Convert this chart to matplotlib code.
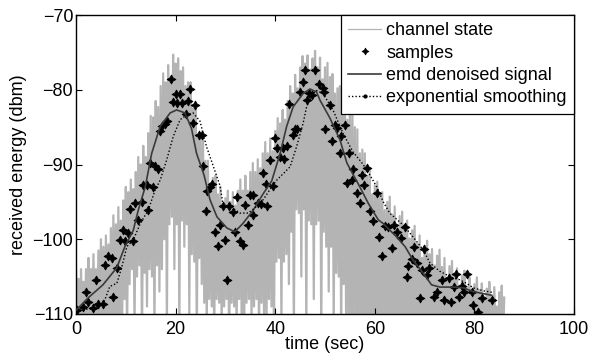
import numpy as np
import matplotlib
matplotlib.use("Agg")
import matplotlib.pyplot as plt
from matplotlib.lines import Line2D

plt.rcParams['font.family'] = ['Liberation Sans', 'DejaVu Sans']

# ---------------- data ----------------
chan_step = 0.25  # seconds between channel-state readings
# channel-state local maxima (t = 0, 0.5, 1.0, ... 86)
chan_peaks = [
    -104.0, -105.3, -104.0, -105.7, -104.0, -102.5, -104.0, -102.0, -104.0, -101.5,
    -100.0, -101.0, -99.5, -100.7, -98.5, -96.8, -98.0, -95.7, -97.5, -94.8,
    -93.0, -93.7, -92.0, -93.3, -91.0, -89.0, -90.0, -87.5, -89.0, -85.8,
    -83.5, -83.7, -81.5, -82.3, -79.5, -77.8, -79.0, -76.7, -78.5, -75.3,
    -76.5, -75.8, -77.5, -77.0, -79.5, -79.0, -79.0, -82.5, -82.5, -86.5,
    -86.0, -86.5, -89.5, -89.5, -92.5, -91.8, -91.5, -94.0, -93.0, -96.0,
    -94.5, -93.5, -95.0, -93.7, -95.5, -93.5, -92.0, -93.5, -91.5, -93.5,
    -91.0, -89.8, -91.0, -89.3, -90.5, -88.5, -87.0, -88.5, -86.5, -88.2,
    -85.5, -83.8, -84.5, -82.7, -84.0, -81.5, -79.5, -80.5, -78.0, -79.8,
    -77.0, -75.5, -76.5, -75.4, -77.3, -75.8, -74.8, -77.0, -75.7, -78.6,
    -77.0, -76.4, -78.3, -77.9, -80.5, -79.8, -79.5, -82.0, -81.0, -84.0,
    -82.5, -82.5, -85.0, -85.3, -88.5, -88.0, -88.5, -91.5, -90.8, -94.0,
    -92.8, -92.3, -94.3, -93.7, -96.1, -95.0, -94.3, -96.7, -95.6, -98.5,
    -96.9, -96.3, -98.1, -97.5, -99.9, -98.8, -98.2, -100.6, -99.5, -102.5,
    -100.9, -100.2, -102.0, -101.3, -103.5, -102.2, -101.4, -103.7, -102.5, -105.3,
    -103.6, -102.9, -104.6, -103.9, -106.2, -104.9, -104.2, -106.4, -105.1, -107.8,
    -106.0, -105.1, -106.8, -105.9, -108.0, -106.6, -105.7, -107.8, -106.4, -109.0,
    -107.1, -106.2, -107.8,
]
# channel-state fades (t = 0.25, 0.75, ... 85.75)
chan_fades = [
    -112, -114, -111, -113, -115, -111, -112, -114, -112, -111,
    -113, -115, -112, -111, -114, -112, -113, -111, -112, -108,
    -113, -106, -104, -112, -105, -103.5, -114, -104.5, -109, -104,
    -105, -113, -103.5, -107, -104, -100, -112, -98, -97, -104,
    -98, -113, -97.5, -101, -98, -110, -102, -103, -114, -102.5,
    -106, -108.5, -112, -108, -109, -114, -108, -108.5, -112, -109,
    -108, -115, -108.5, -109, -112, -108, -110, -114, -108.5, -108,
    -111, -109, -108, -113, -108.5, -110, -112, -108, -109, -114,
    -103, -102.5, -111, -103, -102, -106, -99, -113, -96, -96.5,
    -105, -96, -112, -97.5, -98, -108, -98, -97.5, -114, -99,
    -101, -107, -101, -112, -104.5, -105, -114, -106, -112, -111,
    -114, -112, -111, -115, -113, -112, -114, -111, -113, -112,
    -115, -111, -112, -114, -113, -111, -112, -115, -112, -113,
    -111, -114, -112, -113, -115, -111, -112, -114, -113, -112,
    -111, -115, -112, -113, -114, -111, -112, -113, -115, -112,
    -113, -111, -114, -112, -113, -115, -111, -112, -114, -113,
    -112, -111, -115, -113, -112, -114, -111, -113, -112, -115,
    -112, -114,
]

sample_t = [
    0.1, 1.5, 2.0, 2.5, 3.5, 4.0, 4.5, 5.5, 5.8, 6.5, 7.2, 7.5, 8.2, 8.8, 9.5, 9.8,
    10.5, 10.8, 11.5, 11.8, 12.5, 13.2, 13.5, 14.2, 14.5, 15.4, 14.9, 15.9, 16.5,
    16.8, 17.3, 17.8, 18.3, 19.0, 19.5, 20.0, 20.9, 20.3, 21.3, 22.5, 22.0, 22.9,
    23.5, 23.9, 24.6, 25.2, 25.4, 26.4, 26.9, 27.4, 26.1, 29.5, 30.8, 31.5, 32.4,
    33.9, 34.9, 35.6, 36.6, 37.1, 38.3, 35.5, 28.9, 34.5, 27.9, 32.0, 29.9, 32.9,
    33.5, 28.6, 30.4, 37.5, 38.1, 39.5, 39.0, 40.0, 40.4, 41.0, 41.8, 41.5, 42.4,
    42.8, 43.5, 43.9, 44.4, 45.0, 45.6, 46.0, 46.3, 46.8, 47.3, 48.0, 48.7, 49.5,
    49.8, 51.0, 50.0, 51.4, 52.0, 52.4, 53.2, 54.0, 53.0, 54.9, 55.7, 57.4, 58.4,
    54.4, 55.4, 57.8, 56.5, 60.5, 57.0, 59.0, 59.7, 60.9, 61.4, 62.1, 62.7, 63.9,
    64.5, 65.2, 66.1, 63.4, 67.9, 69.9, 67.4, 68.4, 66.7, 69.4, 70.9, 70.4, 66.5,
    73.4, 75.0, 76.4, 78.6, 72.5, 71.9, 69.1, 73.9, 75.4, 76.9, 75.9, 77.6, 78.0,
    79.5, 81.5, 83.5, 79.8, 80.8,
]
sample_v = [
    -109.5, -109.0, -107.0, -108.4, -109.2, -105.5, -108.6, -108.6, -103.4, -102.3,
    -102.5, -107.7, -103.9, -100.1, -98.8, -100.3, -99.2, -95.9, -100.3, -95.2,
    -97.4, -95.0, -92.7, -92.7, -96.1, -93.0, -89.8, -90.2, -90.6, -85.5, -84.9,
    -84.6, -84.2, -78.5, -81.6, -80.6, -80.6, -81.8, -81.8, -81.5, -83.2, -79.9,
    -84.4, -82.1, -86.1, -86.1, -90.2, -93.6, -93.0, -92.6, -96.2, -95.6, -95.5,
    -96.3, -94.4, -95.4, -94.1, -94.1, -95.1, -95.3, -95.6, -96.8, -98.1, -98.1,
    -99.0, -99.0, -100.1, -100.3, -100.8, -100.9, -105.4, -91.2, -92.6, -92.9,
    -89.4, -86.5, -87.8, -89.0, -89.2, -87.8, -87.5, -81.9, -86.1, -85.3, -85.2,
    -80.3, -78.9, -77.3, -81.4, -80.4, -80.7, -77.4, -79.2, -79.7, -80.3, -82.0,
    -85.2, -86.9, -84.7, -85.1, -86.2, -84.7, -88.5, -88.4, -90.6, -91.4, -90.5,
    -92.5, -92.1, -92.7, -93.8, -93.8, -95.1, -96.2, -97.5, -99.7, -102.2, -98.2,
    -98.4, -98.1, -99.0, -99.8, -98.4, -101.2, -101.1, -101.3, -102.6, -103.2,
    -103.6, -104.1, -103.8, -104.8, -105.0, -105.4, -105.2, -104.6, -104.6, -107.0,
    -107.7, -107.9, -108.1, -108.4, -107.7, -106.4, -106.3, -107.0, -107.0, -107.9,
    -108.1, -108.8, -109.7,
]

emd_t = [0, 2.5, 5.4, 8.2, 9.8, 11.5, 12.5, 13.9, 15.2, 16.9, 18.9, 20.2, 21.9, 23.2,
         24.2, 25.7, 26.9, 28.3, 30.3, 31.9, 33.5, 35.6, 37.6, 39.3, 41.0, 42.3, 43.6,
         45.6, 47.0, 48.3, 49.0, 51.0, 53.0, 54.4, 57.0, 58.7, 60.7, 61.7, 64.4, 66.1,
         67.7, 69.7, 71.4, 73.1, 75.7, 77.8, 79.7, 83.5]
emd_v = [-109.5, -107.8, -106.1, -103.8, -101.0, -98.8, -96.1, -93.0, -88.5, -84.9,
         -83.1, -82.7, -83.1, -85.2, -88.5, -91.4, -94.7, -97.0, -98.5, -99.0, -97.9,
         -96.1, -93.9, -92.2, -88.5, -84.9, -82.3, -80.5, -79.9, -80.3, -81.4, -83.8,
         -86.7, -89.8, -93.0, -95.2, -97.4, -97.9, -99.7, -101.0, -102.8, -104.5,
         -106.1, -106.4, -106.4, -106.5, -107.0, -107.5]

exp_t = [0, 2.5, 5.4, 6.8, 8.2, 9.2, 10.2, 11.5, 12.9, 14.5, 15.9, 16.9, 18.2, 19.5,
         20.9, 22.2, 23.5, 24.9, 26.2, 27.6, 28.9, 29.6, 31.0, 32.9, 34.6, 36.3, 37.6,
         39.3, 40.3, 43.0, 44.3, 45.6, 46.3, 47.3, 48.3, 49.6, 51.6, 53.6, 55.6, 57.2,
         58.4, 60.4, 61.7, 63.0, 65.7, 67.7, 69.7, 71.1, 73.1, 75.7, 77.0, 78.4, 79.8,
         81.8, 83.5]
exp_v = [-109.7, -109.3, -108.8, -106.3, -105.9, -103.7, -101.0, -100.1, -97.9, -96.1,
         -93.4, -92.1, -89.4, -86.3, -84.0, -83.4, -83.1, -84.2, -87.6, -90.3, -92.8,
         -95.6, -95.6, -96.5, -96.5, -95.6, -94.7, -93.0, -92.1, -90.3, -87.6, -84.5,
         -82.3, -80.7, -80.1, -80.5, -82.7, -85.8, -88.3, -89.6, -90.7, -93.0, -95.0,
         -96.5, -98.1, -99.7, -101.4, -103.2, -104.3, -105.2, -105.4, -105.9, -106.5,
         -106.9, -107.1]

x_ticks = [0, 20, 40, 60, 80, 100]
y_ticks = [-110, -100, -90, -80, -70]

# ---------------- build channel trace ----------------
chan_v = np.empty(len(chan_peaks) + len(chan_fades))
chan_v[0::2] = chan_peaks
chan_v[1::2] = chan_fades
chan_t = np.arange(len(chan_v)) * chan_step

# ---------------- plot ----------------
fig = plt.figure(figsize=(6.01, 3.6), dpi=100)
ax = fig.add_axes([0.1265, 0.1278, 0.8285, 0.8305])

GRAY = '#b4b4b4'
STAR = (4, 1, 0)
ax.plot(chan_t, chan_v, color=GRAY, lw=1.6, zorder=1)
ax.plot(sample_t, sample_v, linestyle='none', marker=STAR, ms=6.5, mew=0.6,
        color='black', zorder=3)
ax.plot(emd_t, emd_v, color='#3a3a3a', lw=1.2, zorder=4)
ax.plot(exp_t, exp_v, color='black', lw=1.0, linestyle=(0, (1, 1.5)), zorder=5)

ax.set_xlim(0, 100)
ax.set_ylim(-110, -70)
ax.set_xticks(x_ticks)
ax.set_yticks(y_ticks)
ax.tick_params(direction='in', length=4, width=0.8, top=True, right=True,
               labelsize=13)
ax.tick_params(axis='x', pad=5)
ax.tick_params(axis='y', pad=2)
for s in ax.spines.values():
    s.set_linewidth(1.0)

ax.set_xlabel('time (sec)', fontsize=13)
ax.set_ylabel('received energy (dbm)', fontsize=13)
ax.xaxis.set_label_coords(0.5, -0.075)
ax.yaxis.set_label_coords(-0.098, 0.5)

handles = [
    Line2D([], [], color=GRAY, lw=0.9),
    Line2D([], [], linestyle='none', marker=STAR, ms=5, mew=0.5, color='black'),
    Line2D([], [], color='#3a3a3a', lw=1.2),
    Line2D([], [], color='black', lw=1.0, linestyle=(0, (1, 1.5)), marker='.',
           ms=4, markevery=[1]),
]
labels = ['channel state', 'samples', 'emd denoised signal', 'exponential smoothing']
leg = ax.legend(handles, labels, loc='upper right', fontsize=13, handlelength=1.8,
                handletextpad=0.3, borderpad=0.4, labelspacing=0.3,
                borderaxespad=0.0, fancybox=False, framealpha=1.0,
                edgecolor='black')
leg.get_frame().set_linewidth(0.9)

fig.savefig('out.png', dpi=100)
